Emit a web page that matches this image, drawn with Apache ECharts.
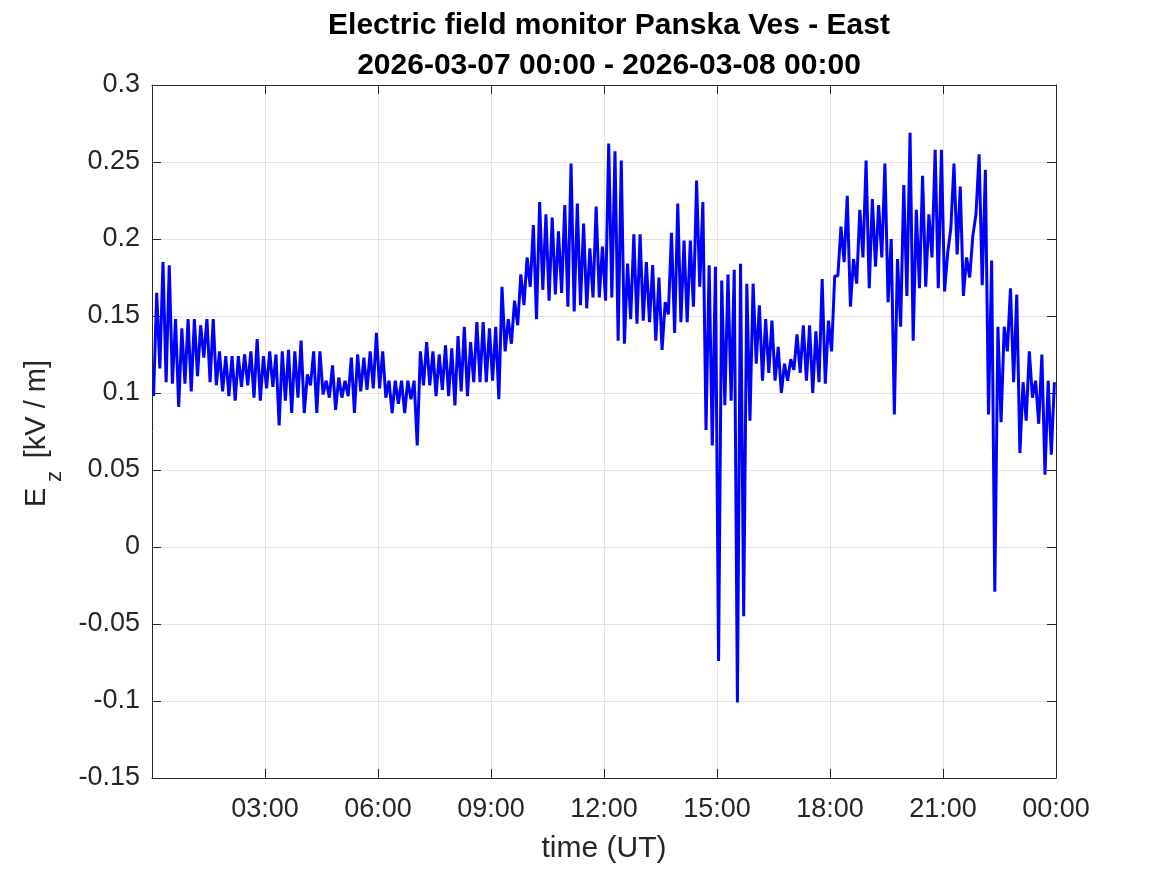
<!DOCTYPE html>
<html>
<head>
<meta charset="utf-8">
<script src="https://cdn.jsdelivr.net/npm/echarts@6/dist/echarts.min.js"></script>
<style>
html,body{margin:0;padding:0;background:#fff;}
#chart{width:1167px;height:875px;}
</style>
</head>
<body>
<div id="chart"></div>
<script>
// 10-minute buckets (00:00 .. 23:50), low and high envelope of E_z [kV/m]
var bucketMinutes = 10;
var lowValues = [
0.098,0.116,0.107,0.106,0.091,0.106,0.101,0.111,0.123,0.107,
0.105,0.101,0.098,0.095,0.104,0.105,0.097,0.095,0.103,0.104,
0.079,0.095,0.087,0.097,0.087,0.105,0.087,0.099,0.097,0.089,
0.097,0.098,0.087,0.101,0.102,0.103,0.103,0.097,0.087,0.093,
0.087,0.096,0.066,0.105,0.105,0.098,0.102,0.098,0.092,0.101,
0.098,0.107,0.107,0.107,0.108,0.096,0.127,0.132,0.144,0.157,
0.169,0.148,0.167,0.160,0.164,0.165,0.156,0.153,0.157,0.155,
0.162,0.162,0.160,0.162,0.134,0.132,0.148,0.145,0.147,0.146,
0.134,0.128,0.151,0.139,0.146,0.146,0.156,0.169,0.076,0.066,
-0.074,0.092,0.095,-0.101,-0.045,0.082,0.119,0.108,0.113,0.108,
0.100,0.108,0.115,0.113,0.108,0.100,0.107,0.106,0.127,0.176,
0.185,0.156,0.171,0.188,0.168,0.182,0.188,0.159,0.086,0.143,
0.163,0.134,0.168,0.169,0.188,0.168,0.166,0.207,0.190,0.163,
0.175,0.216,0.170,0.086,-0.029,0.081,0.127,0.107,0.061,0.082,
0.097,0.080,0.047,0.060
];
var highValues = [
0.165,0.185,0.183,0.148,0.142,0.148,0.148,0.144,0.148,0.148,
0.127,0.124,0.124,0.124,0.125,0.127,0.135,0.124,0.127,0.125,
0.127,0.128,0.127,0.134,0.112,0.127,0.127,0.108,0.118,0.110,
0.108,0.123,0.125,0.123,0.127,0.139,0.127,0.108,0.108,0.108,
0.108,0.108,0.127,0.133,0.127,0.125,0.131,0.129,0.137,0.143,
0.133,0.146,0.146,0.142,0.143,0.169,0.148,0.160,0.177,0.188,
0.209,0.224,0.216,0.214,0.205,0.222,0.249,0.223,0.210,0.194,
0.221,0.195,0.262,0.257,0.251,0.184,0.203,0.203,0.185,0.183,
0.175,0.159,0.204,0.223,0.199,0.199,0.238,0.224,0.183,0.182,
0.173,0.177,0.180,0.184,0.171,0.171,0.157,0.148,0.147,0.130,
0.119,0.122,0.138,0.144,0.144,0.140,0.174,0.147,0.176,0.208,
0.228,0.187,0.219,0.251,0.226,0.222,0.249,0.200,0.187,0.235,
0.269,0.219,0.241,0.216,0.258,0.258,0.191,0.249,0.234,0.188,
0.202,0.255,0.245,0.186,0.143,0.143,0.168,0.164,0.107,0.127,
0.108,0.125,0.108,0.107
];
var xTickLabels = ['', '03:00', '06:00', '09:00', '12:00', '15:00', '18:00', '21:00', '00:00'];
var yTickLabels = ['-0.15', '-0.1', '-0.05', '0', '0.05', '0.1', '0.15', '0.2', '0.25', '0.3'];
var titleLines = ['Electric field monitor Panska Ves - East', '2026-03-07 00:00 - 2026-03-08 00:00'];
var yNameParts = ['E', 'z', '[kV / m]'];
var xName = 'time (UT)';

var seriesData = [];
for (var k = 0; k < lowValues.length; k++) {
  seriesData.push([k * bucketMinutes + 2.5, lowValues[k]]);
  seriesData.push([k * bucketMinutes + 7.5, highValues[k]]);
}

var FONT = 'Liberation Sans, Arial, Helvetica, sans-serif';
var AX = '#262626';
var GRID = '#e3e3e3';

var chart = echarts.init(document.getElementById('chart'), null, {renderer: 'canvas'});
var option = {
  animation: false,
  backgroundColor: '#ffffff',
  title: {
    text: titleLines.join('\n'),
    left: 604,
    top: 1,
    textAlign: 'center',
    textStyle: {fontFamily: FONT, fontSize: 30, fontWeight: 'bold', color: '#000', lineHeight: 40}
  },
  grid: {left: 152, right: 111, top: 85, bottom: 97, containLabel: false},
  xAxis: [{
    type: 'value', min: 0, max: 1440, interval: 180, position: 'bottom',
    axisLine: {show: true, onZero: false, lineStyle: {color: AX, width: 1}},
    axisTick: {show: true, inside: true, length: 9, lineStyle: {color: AX}},
    axisLabel: {
      show: true, margin: 18, color: AX, fontFamily: FONT, fontSize: 27,
      formatter: function (v) { return xTickLabels[Math.round(v / 180)] || ''; }
    },
    splitLine: {show: true, lineStyle: {color: GRID, width: 1}},
    name: xName, nameLocation: 'middle', nameGap: 56,
    nameTextStyle: {fontFamily: FONT, fontSize: 30, color: AX}
  }, {
    type: 'value', min: 0, max: 1440, interval: 180, position: 'top',
    axisLine: {show: true, onZero: false, lineStyle: {color: AX, width: 1}},
    axisTick: {show: true, inside: true, length: 9, lineStyle: {color: AX}},
    axisLabel: {show: false}, splitLine: {show: false}
  }],
  yAxis: [{
    type: 'value', min: -0.15, max: 0.3, interval: 0.05, position: 'left',
    axisLine: {show: true, onZero: false, lineStyle: {color: AX, width: 1}},
    axisTick: {show: true, inside: true, length: 9, lineStyle: {color: AX}},
    axisLabel: {
      show: true, margin: 12, color: AX, fontFamily: FONT, fontSize: 27,
      formatter: function (v) { return yTickLabels[Math.round((v + 0.15) / 0.05)]; }
    },
    splitLine: {show: true, lineStyle: {color: GRID, width: 1}}
  }, {
    type: 'value', min: -0.15, max: 0.3, interval: 0.05, position: 'right',
    axisLine: {show: true, onZero: false, lineStyle: {color: AX, width: 1}},
    axisTick: {show: true, inside: true, length: 9, lineStyle: {color: AX}},
    axisLabel: {show: false}, splitLine: {show: false}
  }],
  graphic: [{
    type: 'group',
    x: 37, y: 507,
    rotation: Math.PI / 2,
    children: [{
      type: 'text', x: 0, y: 0,
      style: {text: yNameParts[0], fontFamily: FONT, fontSize: 29, fill: AX, align: 'left', verticalAlign: 'middle'}
    }, {
      type: 'text', x: 25, y: 18,
      style: {text: yNameParts[1], fontFamily: FONT, fontSize: 22, fill: AX, align: 'left', verticalAlign: 'middle'}
    }, {
      type: 'text', x: 147, y: 0,
      style: {text: yNameParts[2], fontFamily: FONT, fontSize: 29, fill: AX, align: 'right', verticalAlign: 'middle'}
    }]
  }],
  series: [{
    type: 'line',
    xAxisIndex: 0, yAxisIndex: 0,
    data: seriesData,
    showSymbol: false,
    symbol: 'none',
    sampling: 'none',
    lineStyle: {color: '#0000ff', width: 3},
    clip: true
  }]
};
chart.setOption(option);
</script>
</body>
</html>
